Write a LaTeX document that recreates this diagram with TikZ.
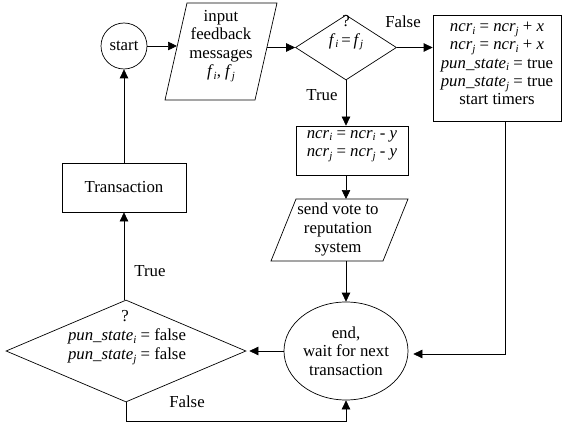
\documentclass[tikz,border=0pt]{standalone}
\usepackage{fontspec}
\setmainfont{Liberation Serif}
\usetikzlibrary{arrows.meta,shapes.geometric}
\newcommand\sub[1]{\raisebox{-0.35ex}{\fontsize{11}{11}\selectfont\textit{#1}}}
\newcommand\vv[2]{\textit{#1}\sub{#2}}
\newcommand\pun{\textit{pun\_state}}
\begin{document}
\begin{tikzpicture}[x=1pt,y=-1pt,line width=0.7pt,
  arr/.style={-{Triangle[length=9pt,width=8.5pt]}},
  txt/.style={font=\fontsize{16.8}{18.3}\selectfont,align=center,inner sep=0pt},
  boxshape/.style={draw,rectangle,inner sep=0pt},
  lbl/.style={txt}]
\useasboundingbox (0,0) rectangle (562,425);

% start
\node[draw,circle,minimum size=46pt,txt] (start) at (124,46) {start};

% input parallelogram
\draw (165,100) -- (187,3) -- (277,3) -- (255,100) -- cycle;
\node[txt] (in1) at (221,46) {input\\feedback\\messages\\\vv{f}{i}, \vv{f}{j}};
\coordinate (in1L) at (177,46);
\coordinate (in1R) at (267,47.5);

% decision f_i = f_j
\node[draw,diamond,minimum width=101pt,minimum height=65pt,inner sep=0pt] (d1) at (346,47.5) {};
\node[txt] (d1t) at (346,33) {?\\\vv{f}{i}\,=\,\vv{f}{j}};

% right box
\node[boxshape,minimum width=128pt,minimum height=106pt] (r1) at (497,68) {};
\node[txt] (r1t) at (497,63.5) {\vv{ncr}{i} = \vv{ncr}{j} + \textit{x}\\
  \vv{ncr}{j} = \vv{ncr}{i} + \textit{x}\\
  \pun\sub{i} = true\\
  \pun\sub{j} = true\\
  start timers};

% ncr - y box
\node[boxshape,minimum width=112pt,minimum height=49pt] (b2) at (352,150.5) {};
\node[txt] (b2t) at (352,146) {\vv{ncr}{i} = \vv{ncr}{i} - \textit{y}\\\vv{ncr}{j} = \vv{ncr}{j} - \textit{y}};

% send vote parallelogram
\draw (271,261) -- (296,199) -- (408,199) -- (383,261) -- cycle;
\node[txt,font=\fontsize{16.8}{19}\selectfont] (p2) at (338,229) {send vote to\\reputation\\system};
\coordinate (p2top) at (346,199);
\coordinate (p2bot) at (346,261);

% end ellipse
\node[draw,ellipse,minimum width=124pt,minimum height=98pt,txt] (end) at (346,351) {end,\\wait for next\\transaction};

% decision pun_state
\node[draw,diamond,minimum width=240pt,minimum height=102pt,inner sep=0pt] (d2) at (126,351) {};
\node[txt] (d2q) at (125,316) {?};
\node[txt,font=\fontsize{16.8}{19}\selectfont] (d2t) at (127,346.5) {\pun\sub{i} = false\\\pun\sub{j} = false};

% transaction
\node[boxshape,minimum width=124pt,minimum height=49pt,txt] (trans) at (124,187.5) {Transaction};

% connectors
\draw[arr] (start) -- (in1L);
\draw[arr] (in1R) -- (d1);
\draw[arr] (d1) -- (d1 -| r1.west);
\draw[arr] (d1.south) -- (d1.south |- b2.north);
\draw[arr] (d1.south |- b2.south) -- (p2top);
\draw[arr] (p2bot) -- (end);
\draw[arr,shorten >=5pt] ([xshift=8pt]r1.south) |- ([yshift=-3pt]end.east);
\draw[arr,shorten >=3pt] (end) -- (d2);
\draw[arr] (trans |- d2.north) -- (trans.south);
\draw[arr] (trans) -- (start);
\draw[arr] (d2.south) -- ++(0,19) -| (end.south);

% labels
\node[lbl] (lf1) at (403,22) {False};
\node[lbl] (lt1) at (322,95) {True};
\node[lbl] (lt2) at (150,271) {True};
\node[lbl] (lf2) at (187,402) {False};
\end{tikzpicture}
\end{document}
